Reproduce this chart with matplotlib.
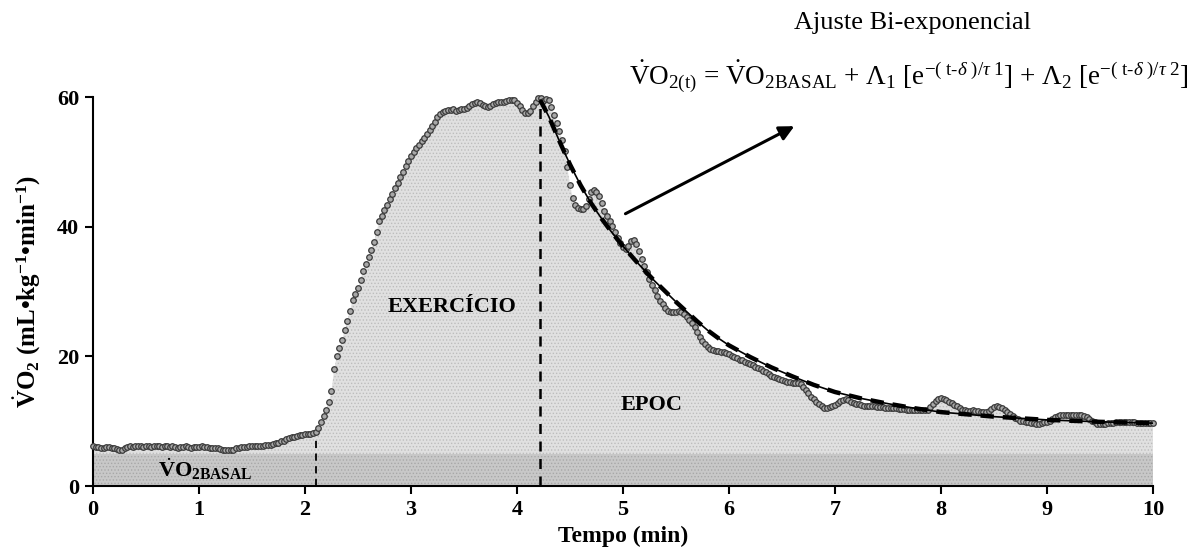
import matplotlib
matplotlib.use("Agg")
import matplotlib.pyplot as plt
import numpy as np

plt.rcParams['font.family'] = ['Liberation Serif', 'DejaVu Serif']
plt.rcParams['mathtext.fontset'] = 'custom'
plt.rcParams['mathtext.rm'] = 'Liberation Serif'
plt.rcParams['mathtext.it'] = 'Liberation Serif:italic'
plt.rcParams['mathtext.bf'] = 'Liberation Serif:bold'
plt.rcParams['hatch.linewidth'] = 0.6

# VO2 cada 0.025 min (0 a 10 min)
tempo = np.round(np.arange(0, 10.0001, 0.025), 3)
vo2 = [
    6.1, 6.0, 6.0, 5.9, 5.9, 6.0, 6.0, 5.9, 5.8, 5.7, 5.6, 5.6, 5.8, 6.0, 6.1, 6.0, 6.1, 6.2, 6.1, 6.0,
    6.1, 6.1, 6.0, 6.1, 6.2, 6.1, 6.0, 6.1, 6.1, 6.0, 6.1, 6.0, 5.9, 6.0, 6.0, 6.1, 6.0, 5.9, 6.0, 6.0,
    6.0, 6.1, 6.0, 6.0, 5.9, 5.9, 5.8, 5.8, 5.7, 5.6, 5.6, 5.5, 5.5, 5.6, 5.8, 5.9, 6.0, 6.0, 6.0, 6.1,
    6.1, 6.1, 6.2, 6.2, 6.2, 6.3, 6.3, 6.4, 6.5, 6.6, 6.7, 6.9, 7.0, 7.2, 7.4, 7.5, 7.6, 7.7, 7.8, 7.9,
    8.0, 8.0, 8.1, 8.2, 8.4, 9.0, 9.8, 10.8, 11.8, 13.0, 14.6, 18.0, 20.0, 21.3, 22.5, 24.0, 25.5, 27.0, 28.7, 29.6,
    30.5, 31.8, 33.2, 34.3, 35.3, 36.4, 37.6, 39.2, 40.8, 41.7, 42.6, 43.4, 44.2, 45.1, 46.0, 46.8, 47.7, 48.5, 49.3, 50.2,
    50.9, 51.5, 52.1, 52.6, 53.2, 53.7, 54.3, 54.9, 55.6, 56.2, 56.9, 57.4, 57.7, 57.9, 58.0, 58.0, 58.1, 57.9, 58.0, 58.2,
    58.1, 58.3, 58.6, 58.9, 59.1, 59.2, 59.1, 58.8, 58.6, 58.5, 58.6, 58.9, 59.1, 59.2, 59.3, 59.3, 59.4, 59.5, 59.6, 59.5,
    59.0, 58.6, 58.0, 57.6, 57.5, 57.9, 58.6, 59.3, 59.9, 59.8, 59.4, 59.7, 59.6, 58.4, 57.2, 56.0, 54.8, 53.4, 51.6, 49.2,
    46.4, 44.5, 43.3, 42.9, 42.7, 42.7, 43.2, 44.3, 45.3, 45.6, 45.4, 44.8, 43.6, 42.4, 41.6, 40.8, 40.1, 39.2, 38.2, 37.5,
    36.9, 36.6, 37.0, 37.8, 38.0, 37.4, 36.2, 35.0, 34.0, 33.0, 32.0, 31.0, 30.2, 29.3, 28.6, 28.0, 27.4, 27.0, 26.8, 26.8,
    26.9, 27.0, 26.9, 26.5, 26.0, 25.6, 25.2, 24.5, 23.7, 23.0, 22.4, 21.9, 21.5, 21.2, 21.0, 20.9, 20.8, 20.7, 20.6, 20.5,
    20.3, 20.1, 19.9, 19.7, 19.5, 19.4, 19.2, 19.0, 18.8, 18.6, 18.4, 18.2, 18.1, 17.8, 17.6, 17.3, 17.0, 16.8, 16.6, 16.5,
    16.4, 16.2, 16.1, 16.0, 15.9, 15.9, 15.9, 15.7, 15.3, 14.8, 14.3, 13.8, 13.4, 13.0, 12.6, 12.3, 12.1, 12.1, 12.2, 12.3,
    12.5, 12.8, 13.1, 13.3, 13.4, 13.3, 13.0, 12.8, 12.7, 12.6, 12.5, 12.4, 12.4, 12.3, 12.3, 12.3, 12.2, 12.2, 12.2, 12.1,
    12.1, 12.0, 12.0, 12.0, 11.9, 11.9, 11.9, 11.8, 11.8, 11.8, 11.8, 11.7, 11.7, 11.7, 11.7, 11.8, 12.2, 12.7, 13.1, 13.4,
    13.5, 13.4, 13.2, 13.0, 12.8, 12.5, 12.3, 12.0, 11.8, 11.7, 11.6, 11.6, 11.7, 11.6, 11.5, 11.4, 11.4, 11.4, 11.6, 11.9,
    12.2, 12.3, 12.2, 12.0, 11.7, 11.4, 11.1, 10.8, 10.5, 10.3, 10.1, 10.0, 9.9, 9.8, 9.7, 9.7, 9.6, 9.6, 9.7, 9.8,
    9.9, 10.0, 10.3, 10.6, 10.8, 10.9, 11.0, 11.0, 11.0, 11.0, 11.0, 11.0, 11.0, 10.9, 10.8, 10.6, 10.3, 10.0, 9.8, 9.6,
    9.5, 9.5, 9.6, 9.7, 9.7, 9.7, 9.8, 9.8, 9.8, 9.8, 9.8, 9.8, 9.8, 9.8, 9.7, 9.7, 9.7, 9.7, 9.7, 9.7,
    9.7,
]
vo2 = np.array(vo2)
assert len(vo2) == len(tempo), (len(vo2), len(tempo))

# ajuste bi-exponencial na recuperacao
t_ajuste = [4.22, 4.3, 4.4, 4.5, 4.6, 4.7, 4.8, 4.9, 5.0, 5.1, 5.2, 5.3, 5.4, 5.5, 5.6, 5.7,
            5.8, 5.9, 6.0, 6.2, 6.4, 6.6, 6.8, 7.0, 7.25, 7.5, 7.75, 8.0, 8.5, 9.0, 9.5, 10.0]
vo2_ajuste = [59.5, 57.0, 53.2, 49.6, 46.4, 43.6, 41.2, 39.0, 37.0, 35.1, 33.3, 31.6, 30.0, 28.4, 26.9, 25.4,
              24.0, 22.8, 21.7, 19.9, 18.3, 16.9, 15.6, 14.5, 13.5, 12.7, 12.0, 11.4, 10.7, 10.2, 9.9, 9.7]

vo2_basal = 5.0
t_inicio = 2.1
t_fim = 4.22

fig = plt.figure(figsize=(12, 5.54), dpi=100)
ax = fig.add_axes([0.0775, 0.1227, 0.8833, 0.7022])

# areas sombreadas
ax.fill_between(tempo, 0, vo2, facecolor='#e0e0e0', edgecolor='#bdbdbd', hatch='.....', linewidth=0, zorder=1)
ax.fill_between(tempo, 0, np.minimum(vo2, vo2_basal), facecolor='#c8c8c8', edgecolor='#a8a8a8',
                hatch='.....', linewidth=0, zorder=1)

# linhas de inicio e fim do exercicio
ax.plot([t_inicio, t_inicio], [0, vo2[tempo == t_inicio][0]], color='black', ls=(0, (4, 3)), lw=1.3, zorder=2)
ax.plot([t_fim, t_fim], [0, 59.9], color='black', ls=(0, (4, 3)), lw=1.8, zorder=2)

ax.plot(tempo, vo2, 'o', ms=4.0, mfc='#a8a8a8', mec='#3a3a3a', mew=0.9, zorder=3, clip_on=False)

ax.plot(t_ajuste, vo2_ajuste, color='black', lw=1.2, zorder=4)
ax.plot(t_ajuste, vo2_ajuste, color='black', lw=3.2, ls=(0, (3, 2)), zorder=4)

ax.set_xlim(0, 10)
ax.set_ylim(0, 60)
ax.set_xticks(range(0, 11))
ax.set_yticks([0, 20, 40, 60])
for s in ['top', 'right']:
    ax.spines[s].set_visible(False)
for s in ['left', 'bottom']:
    ax.spines[s].set_linewidth(1.5)
ax.tick_params(direction='out', length=6, width=1.5, labelsize=16, pad=4)
for lab in ax.get_xticklabels() + ax.get_yticklabels():
    lab.set_fontweight('bold')

ax.set_xlabel('Tempo (min)', fontsize=17, fontweight='bold', labelpad=4)
ax.set_ylabel(r'$\dot{\mathbf{V}}\mathbf{O}_\mathbf{2}$ (mL•kg$^{\mathbf{-1}}$•min$^{\mathbf{-1}}$)',
              fontsize=18, fontweight='bold', labelpad=10)

ax.text(3.39, 27.6, 'EXERCÍCIO', fontsize=16, fontweight='bold', ha='center', va='center', zorder=5)
ax.text(5.27, 12.5, 'EPOC', fontsize=16, fontweight='bold', ha='center', va='center', zorder=5)
ax.text(1.06, 2.6, r'$\dot{\mathbf{V}}\mathbf{O}_{\mathbf{2BASAL}}$', fontsize=16, ha='center', va='center', zorder=5)

ax.annotate('', xy=(6.64, 55.7), xytext=(5.0, 41.8),
            arrowprops=dict(arrowstyle='-|>', color='black', lw=2.2, mutation_scale=22),
            annotation_clip=False)

fig.text(0.76, 0.958, 'Ajuste Bi-exponencial', fontsize=19, ha='center', va='center')
fig.text(0.757, 0.862,
         r'$\dot{\mathrm{V}}\mathrm{O}_{2(\mathrm{t})}$ = $\dot{\mathrm{V}}\mathrm{O}_{2\mathrm{BASAL}}$ + '
         r'$\Lambda_1$ [e$^{-(\ \mathrm{t}\text{-}\delta\ )/\tau\ 1}$] + $\Lambda_2$ [e$^{-(\ \mathrm{t}\text{-}\delta\ )/\tau\ 2}$]',
         fontsize=19.5, ha='center', va='center')

fig.savefig('out.png', dpi=100)
